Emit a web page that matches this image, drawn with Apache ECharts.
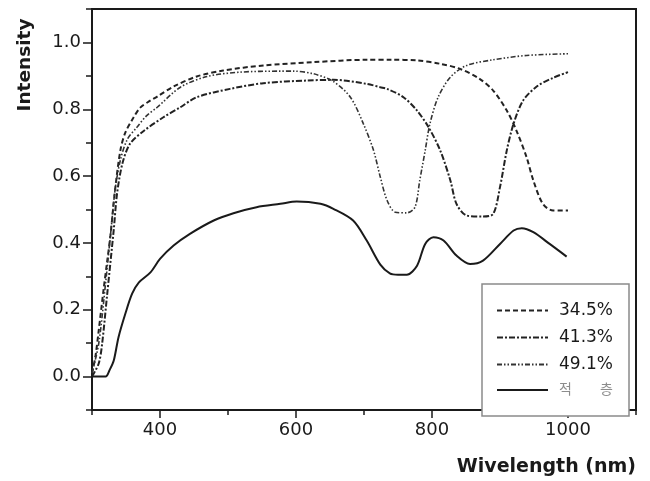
<!DOCTYPE html>
<html>
<head>
<meta charset="utf-8">
<script src="https://cdn.jsdelivr.net/npm/echarts@6/dist/echarts.min.js"></script>
<style>
html,body{margin:0;padding:0;background:#fff;}
#chart{width:650px;height:481px;}
</style>
</head>
<body>
<div id="chart"></div>
<script>
// ---- data ----
const seriesNames = ['34.5%', '41.3%', '49.1%', '적층'];

const wl345 = [300,305,310,317,322,327,334,342,349,361,371,385,396,420,454,493,552,626,704,740,778,812,841,870,890,910,924,939,949,963,978,1000];
const in345 = [0.01,0.06,0.14,0.26,0.34,0.42,0.56,0.68,0.73,0.775,0.805,0.825,0.838,0.868,0.898,0.916,0.931,0.941,0.948,0.948,0.946,0.936,0.921,0.891,0.856,0.796,0.737,0.657,0.587,0.517,0.497,0.497];

const wl413 = [300,310,315,322,332,337,345,356,376,405,430,454,503,552,616,655,704,724,734,758,778,795,812,827,836,851,875,890,900,910,920,934,954,978,1000];
const in413 = [0.0,0.04,0.1,0.24,0.44,0.55,0.64,0.697,0.735,0.776,0.806,0.836,0.861,0.878,0.886,0.888,0.876,0.866,0.861,0.836,0.796,0.746,0.677,0.587,0.517,0.482,0.479,0.487,0.567,0.677,0.757,0.826,0.868,0.894,0.911];

const wl491 = [300,310,320,328,334,342,352,366,380,396,430,469,518,577,596,626,655,680,699,714,724,734,746,763,775,782,790,797,809,827,851,890,939,1000];
const in491 = [0.01,0.1,0.28,0.44,0.56,0.65,0.71,0.746,0.78,0.806,0.866,0.898,0.911,0.914,0.914,0.906,0.883,0.836,0.757,0.677,0.597,0.527,0.492,0.490,0.507,0.587,0.677,0.757,0.836,0.896,0.931,0.948,0.961,0.966];

const wlStack = [300,320,326,332,339,349,359,369,386,400,420,444,479,508,542,577,601,636,655,684,704,724,738,750,763,778,790,802,817,836,856,875,900,920,932,949,973,998];
const inStack = [0.0,0.0,0.02,0.048,0.118,0.188,0.248,0.282,0.312,0.352,0.392,0.427,0.467,0.489,0.507,0.517,0.524,0.517,0.502,0.467,0.407,0.335,0.309,0.305,0.305,0.332,0.397,0.417,0.407,0.362,0.337,0.347,0.397,0.437,0.444,0.432,0.397,0.359];

const xTickLabels = [400, 600, 800, 1000];
const yTickLabels = [0, 0.2, 0.4, 0.6, 0.8, 1.0];
// ---------------------------------------

function zip(xs, ys) { return xs.map((x, i) => [x, ys[i]]); }

const FONT = "'DejaVu Sans', 'Noto Sans CJK KR', sans-serif";
const INK = '#1a1a1a';

const chart = echarts.init(document.getElementById('chart'), null, {renderer: 'canvas'});

const lineBase = { type: 'line', symbol: 'none', showSymbol: false, smooth: 0.3, xAxisIndex: 0, yAxisIndex: 0, z: 3 };

chart.setOption({
  animation: false,
  backgroundColor: '#ffffff',
  grid: { left: 92, right: 14, top: 9, bottom: 71, show: true, borderColor: INK, borderWidth: 2, backgroundColor: 'transparent' },
  legend: {
    show: true,
    orient: 'vertical',
    left: 482, top: 284,
    padding: [18, 16, 19, 14],
    itemGap: 10,
    itemWidth: 51, itemHeight: 14,
    borderColor: '#8a8a8a', borderWidth: 1.5,
    backgroundColor: '#fff',
    itemStyle: { opacity: 0 },
    data: [
      { name: '34.5%' },
      { name: '41.3%' },
      { name: '49.1%' },
      { name: '적층', textStyle: { color: '#8c8c8c', fontSize: 14 } }
    ],
    formatter: n => n === '적층' ? '적\u3000\u3000층' : n,
    textStyle: { fontFamily: FONT, fontSize: 17, color: INK, padding: [0, 0, 0, 6] }
  },
  xAxis: [
    {
      type: 'value', min: 300, max: 1100, interval: 100, position: 'bottom',
      axisLine: { show: true, onZero: false, lineStyle: { color: INK, width: 2 } },
      axisTick: { show: true, inside: false, length: 5, lineStyle: { color: INK, width: 1.5 } },
      axisLabel: { show: false },
      splitLine: { show: false }
    },
    {
      type: 'value', min: 300, max: 1100, interval: 100, position: 'bottom',
      axisLine: { show: false, onZero: false },
      axisTick: { show: true, inside: false, length: 8, customValues: xTickLabels, lineStyle: { color: INK, width: 1.5 } },
      axisLabel: { show: true, customValues: xTickLabels, margin: 11, fontFamily: FONT, fontSize: 18, color: INK, formatter: v => String(v) },
      splitLine: { show: false },
      name: 'Wivelength (nm)',
      nameLocation: 'end', nameGap: 0,
      nameTextStyle: { fontFamily: FONT, fontSize: 19, fontWeight: 'bold', color: INK, align: 'right', verticalAlign: 'top', padding: [48, 0, 0, 0] }
    }
  ],
  yAxis: [
    {
      type: 'value', min: -0.1, max: 1.1, interval: 0.1, position: 'left',
      axisLine: { show: true, onZero: false, lineStyle: { color: INK, width: 2 } },
      axisTick: { show: true, inside: false, length: 6, lineStyle: { color: INK, width: 1.5 } },
      axisLabel: { show: false },
      splitLine: { show: false }
    },
    {
      type: 'value', min: -0.1, max: 1.1, interval: 0.1, position: 'left',
      axisLine: { show: false, onZero: false },
      axisTick: { show: true, inside: false, length: 9, customValues: yTickLabels, lineStyle: { color: INK, width: 1.5 } },
      axisLabel: { show: true, customValues: yTickLabels, margin: 11, fontFamily: FONT, fontSize: 18, color: INK, formatter: v => v.toFixed(1) },
      splitLine: { show: false },
      name: 'Intensity',
      nameLocation: 'middle', nameRotate: 90, nameGap: 58,
      nameTextStyle: { fontFamily: FONT, fontSize: 18.5, fontWeight: 'bold', color: INK, padding: [0, 0, 0, 289] }
    }
  ],
  series: [
    Object.assign({}, lineBase, { name: seriesNames[0], data: zip(wl345, in345),
      lineStyle: { color: '#222', width: 2, type: [5, 3] }, itemStyle: { color: '#222' } }),
    Object.assign({}, lineBase, { name: seriesNames[1], data: zip(wl413, in413),
      lineStyle: { color: '#222', width: 2, type: [6, 2, 2, 2] }, itemStyle: { color: '#222' } }),
    Object.assign({}, lineBase, { name: seriesNames[2], data: zip(wl491, in491),
      lineStyle: { color: '#333', width: 1.6, type: [5, 2, 1.5, 2, 1.5, 2] }, itemStyle: { color: '#333' } }),
    Object.assign({}, lineBase, { name: seriesNames[3], data: zip(wlStack, inStack),
      lineStyle: { color: '#1a1a1a', width: 2, type: 'solid' }, itemStyle: { color: '#1a1a1a' } })
  ]
});
</script>
</body>
</html>
